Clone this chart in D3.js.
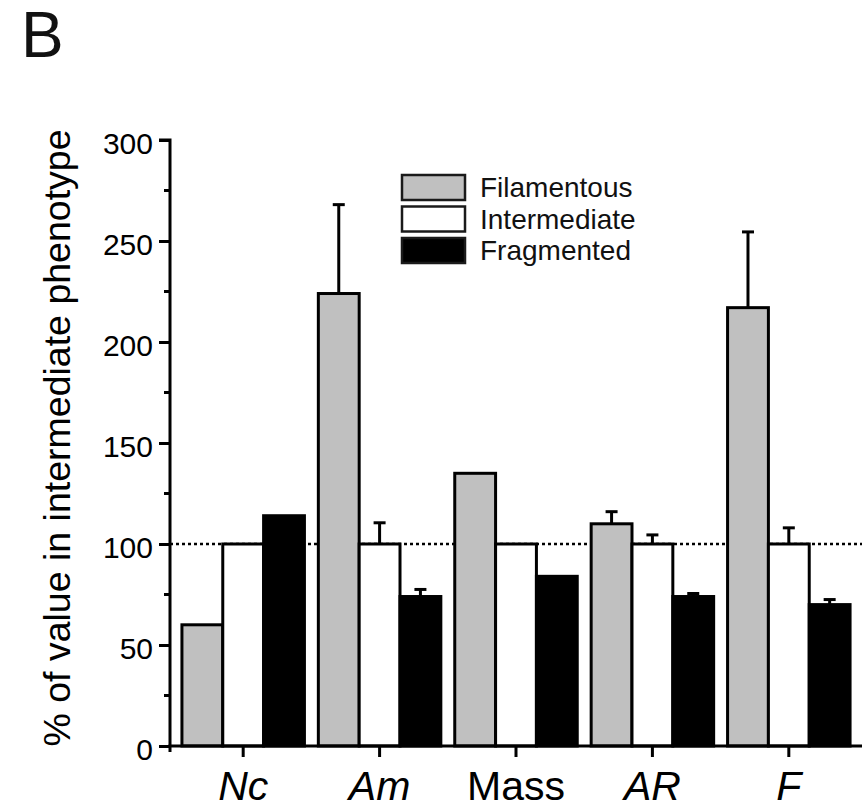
<!DOCTYPE html>
<html>
<head>
<meta charset="utf-8">
<script src="https://cdn.jsdelivr.net/npm/d3@7"></script>
<style>
  html, body { margin: 0; padding: 0; background: #fff; }
  svg { display: block; font-family: "Liberation Sans", Arial, sans-serif; }
</style>
</head>
<body>
<svg id="chart" width="867" height="808"></svg>
<script>
// ---- data ----
const categories = ["Nc", "Am", "Mass", "AR", "F"];
const italicCats = ["Nc", "Am", "AR", "F"];
const seriesNames = ["Filamentous", "Intermediate", "Fragmented"];
const filamentous = [60, 224, 135, 110, 217];
const intermediate = [100, 100, 100, 100, 100];
const fragmented = [114, 74, 84, 74, 70];
const filamentousErr = [0, 44, 0, 6, 37.5];
const intermediateErr = [0, 10.5, 0, 4.5, 8];
const fragmentedErr = [0, 3.5, 0, 1.5, 2.5];
const yTicks = [0, 50, 100, 150, 200, 250, 300];
const yMinorTicks = [25, 75, 125, 175, 225, 275];
const referenceValue = 100;

const seriesColors = ["#c0c0c0", "#ffffff", "#000000"];
const seriesValues = [filamentous, intermediate, fragmented];
const seriesErrors = [filamentousErr, intermediateErr, fragmentedErr];

const rows = [];
categories.forEach((c, i) => {
  seriesNames.forEach((s, j) => {
    rows.push({cat: c, series: s, idx: j, value: seriesValues[j][i], err: seriesErrors[j][i]});
  });
});

const svg = d3.select("#chart");
const x0 = 170, x1 = 862, yBottom = 746, yTop = 140;

const x = d3.scaleBand().domain(categories).range([x0, x1]).paddingInner(0.102).paddingOuter(0.0875);
const xs = d3.scaleBand().domain(seriesNames).range([0, x.bandwidth()]).padding(0);
const y = d3.scaleLinear().domain([0, 300]).range([yBottom, yTop]);

// Panel label
svg.append("text").attr("x", 21).attr("y", 57).attr("font-size", 64).attr("fill", "#111").text("B");

// Reference dotted line
svg.append("line")
  .attr("x1", x0).attr("x2", x1)
  .attr("y1", y(referenceValue)).attr("y2", y(referenceValue))
  .attr("stroke", "#000").attr("stroke-width", 2.4).attr("stroke-dasharray", "3,3");

// Error bars
const eb = svg.append("g");
rows.filter(d => d.err > 0).forEach(d => {
  const cx = x(d.cat) + xs(d.series) + xs.bandwidth() / 2;
  eb.append("line").attr("x1", cx).attr("x2", cx)
    .attr("y1", y(d.value)).attr("y2", y(d.value + d.err))
    .attr("stroke", "#000").attr("stroke-width", 3);
  eb.append("line").attr("x1", cx - 6).attr("x2", cx + 6)
    .attr("y1", y(d.value + d.err)).attr("y2", y(d.value + d.err))
    .attr("stroke", "#000").attr("stroke-width", 3);
});

// Bars
svg.append("g").selectAll("rect").data(rows).join("rect")
  .attr("x", d => x(d.cat) + xs(d.series))
  .attr("width", xs.bandwidth())
  .attr("y", d => y(d.value))
  .attr("height", d => y(0) - y(d.value))
  .attr("fill", d => seriesColors[d.idx])
  .attr("stroke", "#000").attr("stroke-width", 3);

// Y axis
const yAxis = d3.axisLeft(y).tickValues(yTicks).tickSize(11).tickPadding(6);
const gy = svg.append("g").attr("transform", `translate(${x0},0)`).call(yAxis);
gy.select(".domain").attr("stroke-width", 3).attr("d", `M-11,${y(300)}H0V${y(0) + 6}`);
gy.selectAll(".tick line").attr("stroke-width", 3);
gy.selectAll(".tick text").attr("font-size", 30).attr("fill", "#000")
  .attr("font-family", "Liberation Sans, Arial, sans-serif").attr("dy", "0.45em");
// minor ticks
svg.append("g").selectAll("line").data(yMinorTicks).join("line")
  .attr("x1", x0 - 6).attr("x2", x0)
  .attr("y1", d => y(d)).attr("y2", d => y(d))
  .attr("stroke", "#000").attr("stroke-width", 3);

// X axis
const xAxis = d3.axisBottom(x).tickSize(11).tickPadding(14).tickSizeOuter(0);
const gx = svg.append("g").attr("transform", `translate(0,${yBottom})`).call(xAxis);
gx.select(".domain").attr("stroke-width", 3).attr("d", `M${x0 - 1.5},0H${x1}`);
gx.selectAll(".tick line").attr("stroke-width", 3);
gx.selectAll(".tick text").attr("font-size", 41).attr("fill", "#000")
  .attr("font-family", "Liberation Sans, Arial, sans-serif")
  .attr("font-style", d => italicCats.includes(d) ? "italic" : "normal")
  .attr("dy", "0.71em");

// Y axis title
svg.append("text")
  .attr("transform", `translate(70,438) rotate(-90)`)
  .attr("text-anchor", "middle").attr("font-size", 37.5).attr("fill", "#000")
  .text("% of value in intermediate phenotype");

// Legend
const lg = svg.append("g");
seriesNames.forEach((s, i) => {
  const top = 175 + i * 31.5;
  lg.append("rect").attr("x", 402).attr("y", top).attr("width", 63).attr("height", 25)
    .attr("fill", seriesColors[i]).attr("stroke", "#1a1a1a").attr("stroke-width", 2.5);
  lg.append("text").attr("x", 480).attr("y", top + 22).attr("font-size", 28).attr("fill", "#111").text(s);
});
</script>
</body>
</html>
